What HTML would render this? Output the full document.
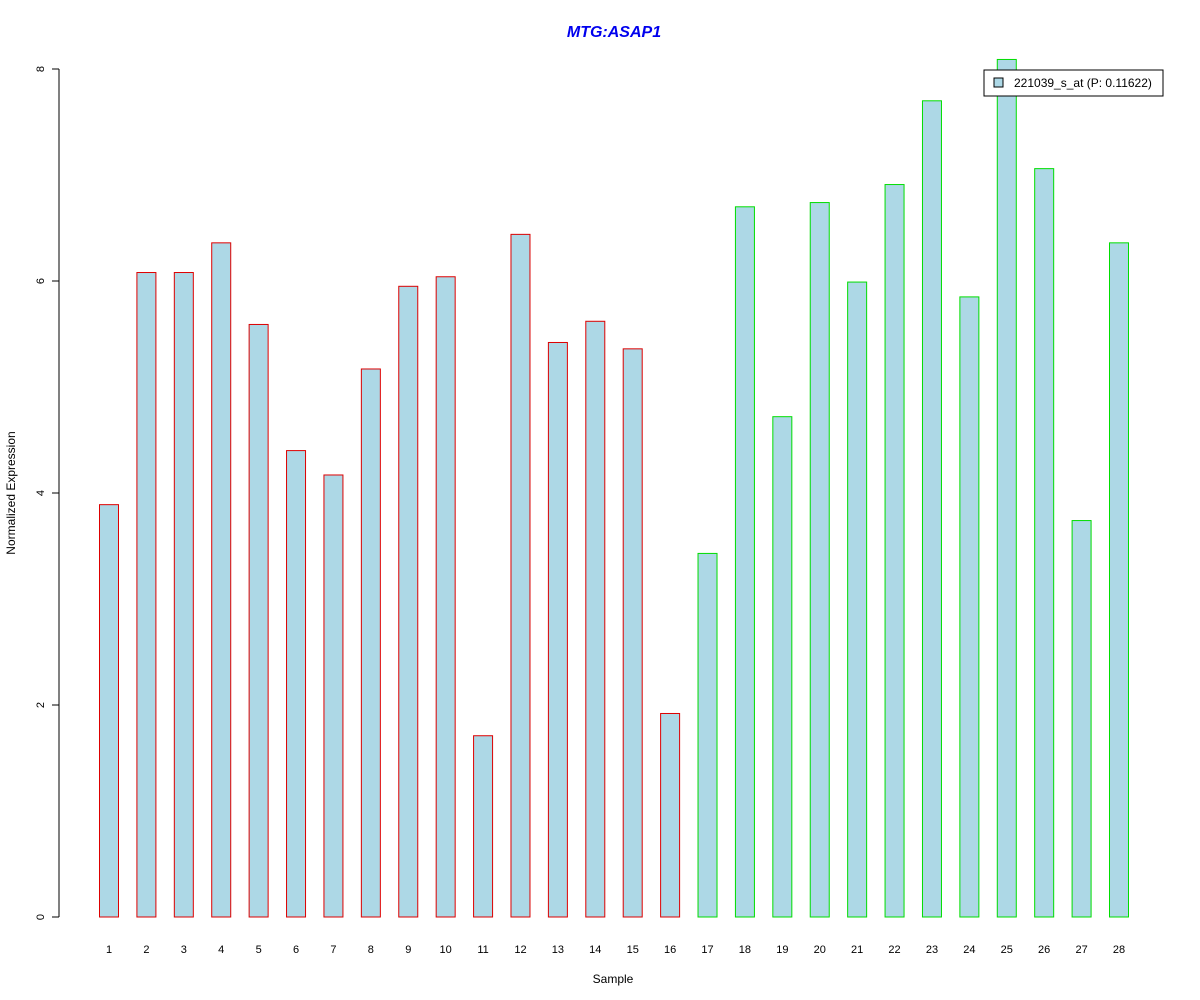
<!DOCTYPE html>
<html><head><meta charset="utf-8"><style>
html,body{margin:0;padding:0;background:#fff;}
svg{display:block;font-family:"Liberation Sans",Arial,sans-serif;}
</style></head><body>
<svg id="chart" width="1200" height="1000" viewBox="0 0 1200 1000">
<text x="614" y="37" text-anchor="middle" font-size="16" font-weight="bold" font-style="italic" fill="#0000ee">MTG:ASAP1</text>
<text x="613" y="983" text-anchor="middle" font-size="12" fill="#000">Sample</text>
<text transform="translate(15,493) rotate(-90)" text-anchor="middle" font-size="12" fill="#000">Normalized Expression</text>
<g id="yaxis"></g>
<g id="bars"></g>
<g id="xlabels"></g>
<g>
<rect x="984" y="70" width="179" height="26" fill="#fff" stroke="#000" stroke-width="1"/>
<rect x="994" y="78" width="9" height="9" fill="#add8e6" stroke="#000" stroke-width="1"/>
<text x="1014" y="87" font-size="12" fill="#000">221039_s_at (P: 0.11622)</text>
</g>
</svg>
<script>
const categories = ["1","2","3","4","5","6","7","8","9","10","11","12","13","14","15","16","17","18","19","20","21","22","23","24","25","26","27","28"];
const values = [3.89,6.08,6.08,6.36,5.59,4.40,4.17,5.17,5.95,6.04,1.71,6.44,5.42,5.62,5.36,1.92,3.43,6.70,4.72,6.74,5.99,6.91,7.70,5.85,8.09,7.06,3.74,6.36];
const groups = ["a","a","a","a","a","a","a","a","a","a","a","a","a","a","a","a","b","b","b","b","b","b","b","b","b","b","b","b"];
const yTicks = [0,2,4,6,8];
const NS="http://www.w3.org/2000/svg";
const y = v => 917 - v*106;
const x = i => 109 + i*(1010/(categories.length-1));
function mk(tag, attrs){const e=document.createElementNS(NS,tag);for(const k in attrs)e.setAttribute(k,attrs[k]);return e;}
const ya=document.getElementById('yaxis');
const ax=mk('line',{x1:59,x2:59,y1:y(yTicks[0]),y2:y(yTicks[yTicks.length-1]),stroke:'#000'});


ya.appendChild(ax);
yTicks.forEach(t=>{
  const l=mk('line',{x1:52,x2:59,y1:y(t),y2:y(t),stroke:'#000'});
  
  
  ya.appendChild(l);
  const tx=mk('text',{transform:`translate(44,${y(t)}) rotate(-90)`,'text-anchor':'middle','font-size':11});
  tx.textContent=t;
  
  
  ya.appendChild(tx);
});
const bg=document.getElementById('bars'), xl=document.getElementById('xlabels');
values.forEach((v,i)=>{
  const r=mk('rect',{x:x(i)-9.5,y:y(v),width:19,height:y(0)-y(v),fill:'#add8e6',stroke:groups[i]==='a'?'#dd0000':'#00dd00','stroke-width':1});
  
  
  bg.appendChild(r);
  const t=mk('text',{x:x(i),y:953,'text-anchor':'middle','font-size':11});
  t.textContent=categories[i];
  
  
  xl.appendChild(t);
});
</script>
</body></html>
